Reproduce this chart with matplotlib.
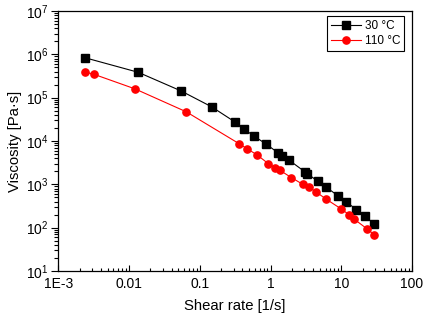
import matplotlib
matplotlib.use("Agg")
import matplotlib.pyplot as plt
import numpy as np
from matplotlib.ticker import FixedLocator, FixedFormatter, FuncFormatter, LogLocator, NullFormatter

plt.rcParams['font.family'] = ['Liberation Sans', 'DejaVu Sans']
plt.rcParams['mathtext.fontset'] = 'custom'
plt.rcParams['mathtext.rm'] = 'Liberation Sans'

# shear rate [1/s] and viscosity [Pa s]
rate_30 = [0.00238, 0.0135, 0.0544, 0.147, 0.315, 0.422, 0.590, 0.857, 1.26, 1.47,
           1.84, 3.04, 3.31, 4.69, 6.15, 9.08, 11.8, 16.3, 21.9, 29.2]
visc_30 = [8.36e5, 3.85e5, 1.43e5, 6.15e4, 2.74e4, 1.89e4, 1.28e4, 8.61e3, 5.42e3, 4.43e3,
           3.58e3, 1.96e3, 1.76e3, 1.17e3, 854, 537, 397, 259, 183, 120]

rate_110 = [0.00237, 0.0032, 0.0121, 0.0644, 0.362, 0.466, 0.649, 0.935, 1.17, 1.35,
            1.97, 2.86, 3.50, 4.35, 6.08, 9.85, 12.9, 14.9, 23.3, 29.2]
visc_110 = [3.91e5, 3.46e5, 1.60e5, 4.72e4, 8.61e3, 6.64e3, 4.75e3, 2.98e3, 2.42e3, 2.12e3,
            1.43e3, 1.0e3, 867, 676, 458, 274, 199, 161, 93, 68.7]

xticks = [1e-3, 1e-2, 1e-1, 1, 10, 100]
xlabels = ['1E-3', '0.01', '0.1', '1', '10', '100']

fig = plt.figure(figsize=(4.27, 3.24), dpi=100)
ax = fig.add_axes([0.1365, 0.1636, 0.8285, 0.8024])

ax.plot(rate_30, visc_30, '-s', color='black', lw=0.8, ms=5.2, label='30 °C')
ax.plot(rate_110, visc_110, '-o', color='red', lw=0.8, ms=5.2, label='110 °C')

ax.set_xscale('log')
ax.set_yscale('log')
ax.set_xlim(1e-3, 100)
ax.set_ylim(10, 1e7)

ax.xaxis.set_major_locator(FixedLocator(xticks))
ax.xaxis.set_major_formatter(FixedFormatter(xlabels))
ax.xaxis.set_minor_locator(LogLocator(base=10, subs=np.arange(2, 10), numticks=20))
ax.xaxis.set_minor_formatter(NullFormatter())
ax.yaxis.set_major_locator(LogLocator(base=10, numticks=20))
ax.yaxis.set_major_formatter(FuncFormatter(lambda v, p: r'$\mathregular{10^{%d}}$' % round(np.log10(v))))
ax.yaxis.set_minor_locator(LogLocator(base=10, subs=np.arange(2, 10), numticks=20))
ax.yaxis.set_minor_formatter(NullFormatter())

ax.tick_params(axis='x', which='major', direction='in', length=4, width=0.8, labelsize=10, pad=4)
ax.tick_params(axis='x', which='minor', direction='in', length=2, width=0.8)
ax.tick_params(axis='y', which='major', direction='out', length=5, width=0.8, labelsize=10, pad=2)
ax.tick_params(axis='y', which='minor', direction='out', length=3, width=0.8)

for s in ax.spines.values():
    s.set_linewidth(0.9)

ax.set_xlabel('Shear rate [1/s]', fontsize=10.7, labelpad=6)
ax.set_ylabel('Viscosity [Pa·s]', fontsize=10.7, labelpad=3)

leg = ax.legend(loc='upper right', bbox_to_anchor=(0.977, 0.98), fontsize=8.5,
                frameon=True, fancybox=False, edgecolor='black', framealpha=1,
                handlelength=2.6, handletextpad=0.3, borderpad=0.3, labelspacing=0.3,
                borderaxespad=0)
leg.get_frame().set_linewidth(0.8)

fig.savefig('out.png', dpi=100)
